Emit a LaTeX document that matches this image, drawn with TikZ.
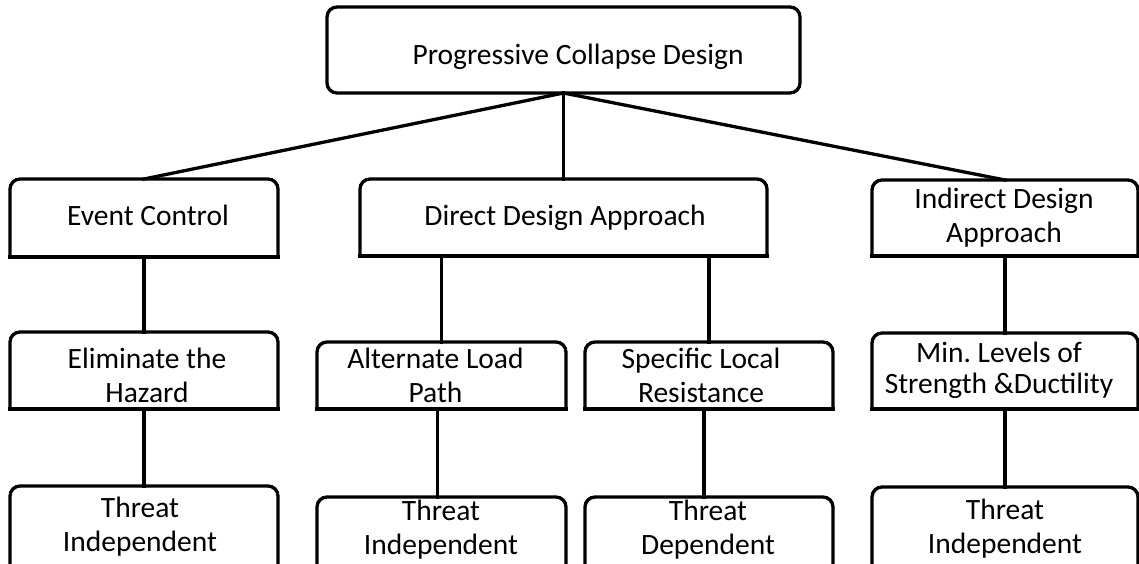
\documentclass[tikz,border=0pt]{standalone}
\usepackage{fontspec}
\setmainfont{Carlito}
\newcommand\twoline[2]{\begin{tabular}[t]{@{}c@{}}#1\\#2\end{tabular}}
\begin{document}
\begin{tikzpicture}[x=1pt,y=-1pt,
  shell/.style={draw=none, rectangle, inner sep=0pt, outer sep=0pt},
  lbl/.style={inner sep=0pt, anchor=base, font=\fontsize{29.5}{34}\selectfont},
  edge/.style={line width=3.3pt, line cap=rect},
  outline/.style={line width=3.3pt, rounded corners=10pt, line cap=rect},
]
\useasboundingbox (0,0) rectangle (1139,563);
\clip (0,0) rectangle (1139,563);
\fill[white] (0,0) rectangle (1139,563);

% boxes
\node[shell, draw, line width=3.3pt, rounded corners=10pt, minimum width=473pt, minimum height=86pt] (top) at (563.5,50) {};
\node[shell, minimum width=268pt, minimum height=78pt] (ec) at (144,218) {};
\node[shell, minimum width=407pt, minimum height=77pt] (dd) at (563.5,217.5) {};
\node[shell, minimum width=266pt, minimum height=76pt] (id) at (1005,218) {};
\node[shell, minimum width=268pt, minimum height=77pt] (eh) at (144,370.5) {};
\node[shell, minimum width=249pt, minimum height=67pt] (al) at (441.5,375.5) {};
\node[shell, minimum width=248pt, minimum height=67pt] (sl) at (709,375.5) {};
\node[shell, minimum width=266pt, minimum height=76pt] (ml) at (1005,371) {};
\node[shell, minimum width=268pt, minimum height=114pt] (tia) at (144,543) {};
\node[shell, minimum width=249pt, minimum height=103pt] (tib) at (441.5,548.5) {};
\node[shell, minimum width=248pt, minimum height=103pt] (tdc) at (709,548.5) {};
\node[shell, minimum width=266pt, minimum height=113pt] (tid) at (1005,543.5) {};

\foreach \n in {ec,dd,id,eh,al,sl,ml,tia,tib,tdc,tid}{
  \draw[outline] (\n.south west) -- (\n.north west) -- (\n.north east) -- (\n.south east);
  \draw[edge] (\n.south west) -- (\n.south east);
}

% connectors
\draw[edge] (top.south) -- (ec.north);
\draw[edge] (top.south) -- (dd.north);
\draw[edge] (top.south) -- (id.north);
\draw[edge] (ec.south) -- (eh.north);
\draw[edge] (eh.south) -- (tia.north);
\draw[edge] (al.north |- dd.south) -- (al.north);
\draw[edge] (sl.north |- dd.south) -- (sl.north);
\draw[edge] ([xshift=-4pt]al.south) -- ([xshift=-4pt]tib.north);
\draw[edge] ([xshift=-5pt]sl.south) -- ([xshift=-5pt]tdc.north);
\draw[edge] (id.south) -- (ml.north);
\draw[edge] (ml.south) -- (tid.north);

% labels
\node[lbl] (t0) at (578,64) {Progressive Collapse Design};
\node[lbl] (t1) at (148,225) {Event Control};
\node[lbl] (t2) at (565,225) {Direct Design Approach};
\node[lbl] (t3) at (1004,208) {\twoline{Indirect Design}{Approach}};
\node[lbl] (t4) at (147,368) {\twoline{Eliminate the}{Hazard}};
\node[lbl] (t5) at (435.5,368) {\twoline{Alternate Load}{Path}};
\node[lbl] (t6) at (701,368) {\twoline{Specific Local}{Resistance}};
\node[lbl, font=\fontsize{29.5}{31}\selectfont] (t7) at (999,362) {\twoline{Min.\ Levels of}{Strength \&Ductility}};
\node[lbl] (t8) at (140,517) {\twoline{Threat}{Independent}};
\node[lbl] (t9) at (441,520) {\twoline{Threat}{Independent}};
\node[lbl] (t10) at (708,520) {\twoline{Threat}{Dependent}};
\node[lbl] (t11) at (1005,519) {\twoline{Threat}{Independent}};
\end{tikzpicture}
\end{document}
